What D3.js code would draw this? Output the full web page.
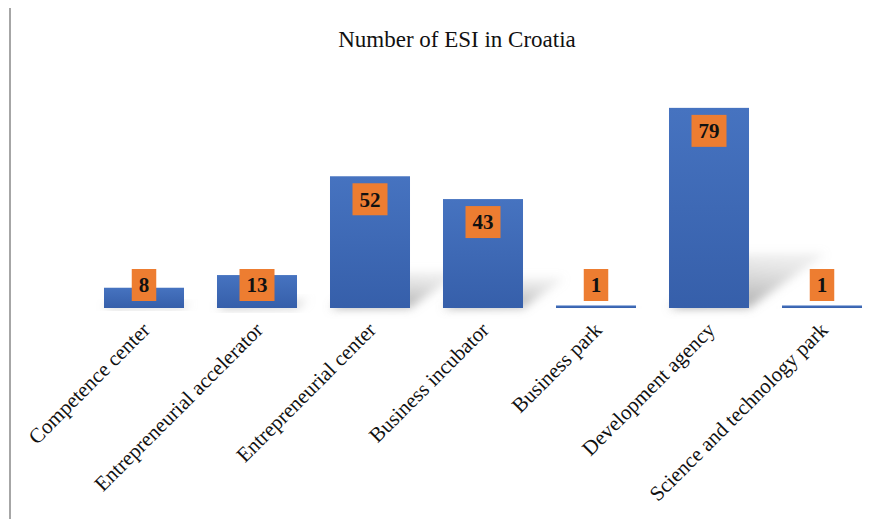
<!DOCTYPE html>
<html><head><meta charset="utf-8">
<script src="https://cdn.jsdelivr.net/npm/d3@7"></script>
<style>
html,body{margin:0;padding:0;background:#fff;}
svg{display:block;}
</style></head>
<body>
<svg id="chart" width="891" height="519"></svg>
<script>
const title = "Number of ESI in Croatia";
const categories = ["Competence center","Entrepreneurial accelerator","Entrepreneurial center","Business incubator","Business park","Development agency","Science and technology park"];
const values = [8, 13, 52, 43, 1, 79, 1];

const W = 891, H = 519;
const svg = d3.select("#chart");
const defs = svg.append("defs");

const grad = defs.append("linearGradient").attr("id","barGrad").attr("x1",0).attr("y1",0).attr("x2",0).attr("y2",1);
grad.append("stop").attr("offset","0%").attr("stop-color","#4673C0");
grad.append("stop").attr("offset","100%").attr("stop-color","#365FAA");

const sg = defs.append("linearGradient").attr("id","shGrad").attr("x1",0).attr("y1",1).attr("x2",0.3).attr("y2",0);
sg.append("stop").attr("offset","0%").attr("stop-color","#909090").attr("stop-opacity",0.85);
sg.append("stop").attr("offset","100%").attr("stop-color","#b5b5b5").attr("stop-opacity",0.25);

const blur = defs.append("filter").attr("id","blur").attr("x","-50%").attr("y","-50%").attr("width","200%").attr("height","200%");
blur.append("feGaussianBlur").attr("stdDeviation",5);

// left border
svg.append("line").attr("x1",10).attr("x2",10).attr("y1",8).attr("y2",H)
  .attr("stroke","#a6a6a6").attr("stroke-width",2);

const x = d3.scaleBand().domain(categories).range([87.5, 878.5]).paddingInner(0.292).paddingOuter(0.146);
const y = d3.scaleLinear().domain([0, 90]).range([308, 80]);
const base = y(0);

// shadows
svg.append("g").selectAll("path").data(values).join("path")
  .attr("d",(d,i)=>{
    const x0 = x(categories[i]), x1 = x0 + x.bandwidth();
    const h = base - y(d);
    const dx = h*0.38, dy = h*0.27;
    return `M${x0},${base}L${x1},${base}L${x1+dx},${base-dy}L${x0+dx},${base-dy}Z`;
  })
  .attr("fill","url(#shGrad)")
  .attr("filter","url(#blur)");

// bars
svg.append("g").selectAll("rect").data(values).join("rect")
  .attr("x",(d,i)=>x(categories[i]))
  .attr("width",x.bandwidth())
  .attr("y",d=>y(d))
  .attr("height",d=>base-y(d))
  .attr("fill","url(#barGrad)");

// data labels
const lg = svg.append("g");
values.forEach((d,i)=>{
  const cx = x(categories[i]) + x.bandwidth()/2;
  const top = Math.min(y(d)+7, 269);
  const g = lg.append("g");
  const t = g.append("text").attr("x",cx).attr("y",top+16).attr("dy","0.35em")
    .attr("text-anchor","middle")
    .attr("font-family","'Liberation Serif','Times New Roman',serif")
    .attr("font-weight","bold").attr("font-size",21).attr("fill","#111")
    .text(d);
  const bw = t.node().getComputedTextLength() + 14;
  g.insert("rect","text").attr("x",cx-bw/2).attr("y",top).attr("width",bw).attr("height",32)
    .attr("fill","#ED7D31");
});

// category labels
svg.append("g").selectAll("text").data(categories).join("text")
  .attr("transform",d=>`translate(${x(d)+x.bandwidth()/2+2},${326}) rotate(-45)`)
  .attr("text-anchor","end")
  .attr("dy","0.35em")
  .attr("font-family","'Liberation Serif','Times New Roman',serif")
  .attr("font-size",21).attr("fill","#111")
  .text(d=>d);

// title
svg.append("text").attr("x",457).attr("y",47).attr("text-anchor","middle")
  .attr("font-family","'Liberation Serif','Times New Roman',serif")
  .attr("font-size",23).attr("fill","#111").text(title);
</script>
</body></html>
